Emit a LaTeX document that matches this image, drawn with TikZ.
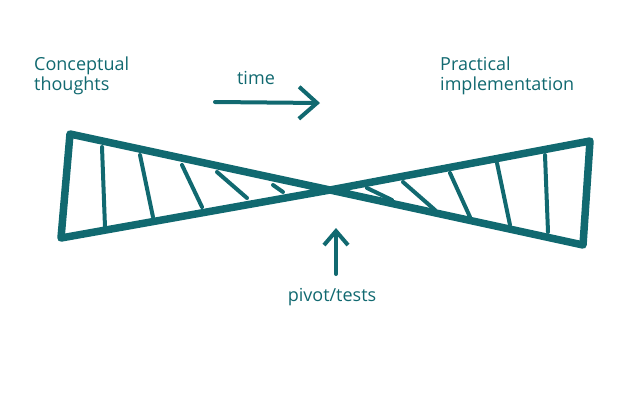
\documentclass[tikz,border=0pt]{standalone}
\usepackage{fontspec}
\setmainfont{Open Sans}
\usepackage{xcolor}
\usepackage{tikz}
\usetikzlibrary{arrows.meta}

\definecolor{teal}{HTML}{116970}

\begin{document}
\begin{tikzpicture}[x=1pt,y=-1pt,line cap=round,line join=round,color=teal,
    label/.style={font=\fontsize{18}{20}\selectfont,text=teal,inner sep=0pt},
    edge/.style={line width=7.5pt},
    hatch/.style={line width=4pt},
    pointer/.style={line width=4pt,-{Straight Barb[length=14pt,width=24pt,line width=4pt]}}]
    \useasboundingbox (0,0) rectangle (640,400);

    \node[label,align = left,anchor = north west](conceptual) at (34,57) {Conceptual\\thoughts};
    \node[label,align = left,anchor = north west](practical) at (440,57) {Practical\\implementation};
    \node[label](time) at (256,78) {time};
    \node[label](pivot) at (332,297) {pivot/tests};

    % bow tie corners
    \coordinate (lefttop) at (70,134);
    \coordinate (leftbottom) at (61,238);
    \coordinate (centre) at (330,190);
    \coordinate (righttop) at (590,141);
    \coordinate (rightbottom) at (583,245);

    \draw[edge] (centre) -- (lefttop) -- (leftbottom) -- cycle;
    \draw[edge] (centre) -- (righttop) -- (rightbottom) -- cycle;

    % hatching
    \foreach \xa/\ya/\xb/\yb in {102/147/105/227, 140/155/153/217, 182/165/202/207, 217/172/247/198, 273/185/283/192,
                                  367/188/392/200, 403/182/435/210, 450/173/470/217, 497/163/510/225, 545/155/548/232}
      \draw[hatch] (\xa,\ya) -- (\xb,\yb);

    % arrows
    \coordinate (timestart) at (215,102);
    \coordinate (timeend) at (320,103);
    \draw[pointer,-{Straight Barb[length=18pt,width=32pt,line width=4pt]}] (timestart) -- (timeend);
    \coordinate (pivotstart) at (336,274);
    \coordinate (pivotend) at (336,228);
    \draw[pointer] (pivotstart) -- (pivotend);
\end{tikzpicture}
\end{document}
